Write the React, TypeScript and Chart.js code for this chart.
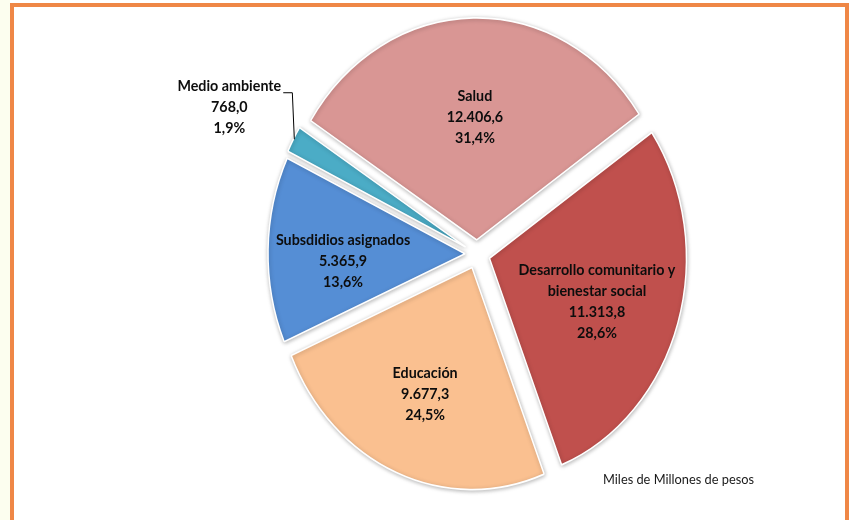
import React, { useEffect, useRef } from "react";
import { Chart, registerables } from "chart.js";

Chart.register(...registerables);

// ---- data ----
const categories = [
  "Salud",
  "Desarrollo comunitario y\nbienestar social",
  "Educación",
  "Subsdidios asignados",
  "Medio ambiente",
];
const values = [12406.6, 11313.8, 9677.3, 5365.9, 768.0];
const unitNote = "Miles de Millones de pesos";

// ---- styles ----
const colors = ["#D99694", "#C0504D", "#FAC090", "#558ED5", "#4BACC6"];
const explode = [12.5, 13, 13, 12, 13];
const labelRadius: (number | null)[] = [0.55, 0.58, 0.62, 0.62, null];
const labelTurn = [0, 2.8, 0, -4.1, 0]; // degrees, clockwise
const STRETCH = 1.127;
const ROTATION = -57.5;
const RADIUS = 197;
const LINE_H = 21;
const LABEL_FONT = "bold 14.3px Lato";

function fmt(v: number): string {
  const [i, f] = v.toFixed(1).split(".");
  return i.replace(/\B(?=(\d{3})+(?!\d))/g, ".") + "," + f;
}

const pieLook = {
  id: "pieLook",
  afterUpdate(chart: any) {
    const meta = chart.getDatasetMeta(0);
    meta.data.forEach((arc: any, i: number) => {
      const mid = (arc.startAngle + arc.endAngle) / 2;
      arc.x += Math.cos(mid) * explode[i];
      arc.y += Math.sin(mid) * explode[i];
    });
  },
  beforeDatasetsDraw(chart: any) {
    const ctx = chart.ctx;
    const ca = chart.chartArea;
    const cy = (ca.top + ca.bottom) / 2;
    ctx.save();
    ctx.translate(0, cy);
    ctx.scale(1, STRETCH);
    ctx.translate(0, -cy);
    ctx.shadowColor = "rgba(0,0,0,0.28)";
    ctx.shadowBlur = 4;
    ctx.shadowOffsetX = 0.5;
    ctx.shadowOffsetY = 1;
  },
  afterDatasetsDraw(chart: any) {
    chart.ctx.restore();
  },
  afterDraw(chart: any) {
    const ctx = chart.ctx;
    const ca = chart.chartArea;
    const cy = (ca.top + ca.bottom) / 2;
    const meta = chart.getDatasetMeta(0);
    const total = values.reduce((a, b) => a + b, 0);
    const toScreen = (x: number, y: number) => [x, cy + (y - cy) * STRETCH];
    ctx.save();
    ctx.fillStyle = "#0d0d0d";
    ctx.font = LABEL_FONT;
    ctx.textAlign = "center";
    ctx.textBaseline = "middle";
    meta.data.forEach((arc: any, i: number) => {
      const mid = (arc.startAngle + arc.endAngle) / 2;
      const lines = [
        ...categories[i].split("\n"),
        fmt(values[i]),
        fmt((values[i] / total) * 100) + "%",
      ];
      let bx: number, by: number;
      const lr = labelRadius[i];
      if (lr != null) {
        const r = lr * arc.outerRadius;
        const a = mid + (labelTurn[i] * Math.PI) / 180;
        [bx, by] = toScreen(arc.x + Math.cos(a) * r, arc.y + Math.sin(a) * r);
      } else {
        const [px, py] = toScreen(
          arc.x + Math.cos(mid) * arc.outerRadius,
          arc.y + Math.sin(mid) * arc.outerRadius
        );
        bx = px - 64;
        by = py - 32;
        const y0 = by - ((lines.length - 1) / 2) * LINE_H;
        const tw = ctx.measureText(lines[0]).width;
        ctx.strokeStyle = "#000000";
        ctx.lineWidth = 1;
        ctx.beginPath();
        ctx.moveTo(px + 1, py);
        ctx.lineTo(px - 1, y0 + 6.5);
        ctx.lineTo(bx + tw / 2 + 2, y0 + 6.5);
        ctx.stroke();
      }
      const y0 = by - ((lines.length - 1) / 2) * LINE_H;
      lines.forEach((t, j) => ctx.fillText(t, bx, y0 + j * LINE_H));
    });
    ctx.restore();
  },
};

export default function App() {
  const canvasRef = useRef<HTMLCanvasElement | null>(null);

  useEffect(() => {
    if (!canvasRef.current) return;
    const chart = new Chart(canvasRef.current, {
      type: "pie",
      data: {
        labels: categories.map((c) => c.replace("\n", " ")),
        datasets: [
          {
            data: values,
            backgroundColor: colors,
            borderColor: "#ffffff",
            borderWidth: 1.5,
            radius: RADIUS,
            clip: false,
          } as any,
        ],
      },
      options: {
        animation: false,
        responsive: true,
        maintainAspectRatio: false,
        rotation: ROTATION,
        events: [],
        layout: { padding: { left: 105, right: 0, top: 0, bottom: 12 } },
        plugins: { legend: { display: false }, tooltip: { enabled: false } },
      } as any,
      plugins: [pieLook as any],
    });
    return () => chart.destroy();
  }, []);

  return (
    <div
      style={{
        position: "fixed",
        left: 0,
        top: 0,
        width: 849,
        height: 520,
        overflow: "hidden",
        background: "#ffffff",
      }}
    >
      <div
        style={{
          position: "absolute",
          left: 0,
          top: 0,
          width: 10,
          height: 520,
          background: "#FCFEEF",
        }}
      />
      <div
        style={{
          position: "absolute",
          left: 10,
          top: 3,
          width: 839,
          height: 600,
          boxSizing: "border-box",
          border: "4px solid #EF8746",
          borderBottom: "none",
          background: "#ffffff",
        }}
      />
      <div style={{ position: "absolute", left: 0, top: 0, width: 849, height: 520 }}>
        <canvas ref={canvasRef} />
      </div>
      <div
        style={{
          position: "absolute",
          left: 603,
          top: 471,
          fontFamily: "Lato, sans-serif",
          fontSize: 12.8,
          color: "#1a1a1a",
          whiteSpace: "nowrap",
        }}
      >
        {unitNote}
      </div>
    </div>
  );
}
